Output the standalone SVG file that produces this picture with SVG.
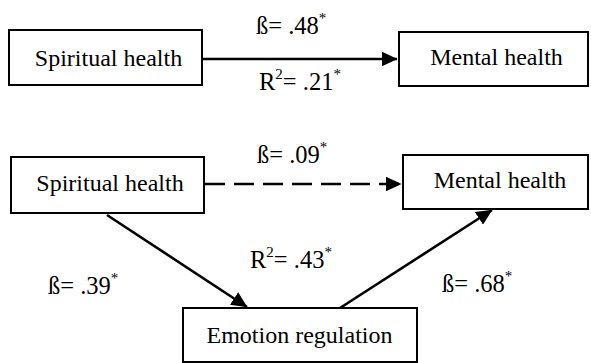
<svg xmlns="http://www.w3.org/2000/svg" width="591" height="363" viewBox="0 0 591 363" font-family="Liberation Serif, Times New Roman, serif">
<defs>
<style>
.box{fill:#fff;stroke:#000;stroke-width:2}
text{font-family:"Liberation Serif","Times New Roman",serif;font-size:24px;fill:#000}
.lbl{font-size:24.5px}
.sup{font-size:15px}
.edge{stroke:#000;stroke-width:2.6;fill:none}
.dash{stroke-dasharray:20 9}
</style>
<marker id="ah" markerUnits="userSpaceOnUse" markerWidth="16" markerHeight="15" viewBox="0 0 16 15" refX="15.5" refY="7.5" orient="auto">
<path d="M0,0 L16,7.5 L0,15 Z" fill="#000"/>
</marker>
</defs>
<rect width="591" height="363" fill="#fff"/>
<g id="connectors">
<line class="edge" x1="203" y1="59" x2="397" y2="59" marker-end="url(#ah)"/>
<line class="edge dash" x1="205" y1="184" x2="401" y2="184" marker-end="url(#ah)"/>
<line class="edge" x1="107" y1="215" x2="247" y2="307" marker-end="url(#ah)"/>
<line class="edge" x1="340" y1="308" x2="492" y2="210" marker-end="url(#ah)"/>
</g>
<g id="spiritual-top">
<rect class="box" x="9" y="30" width="193" height="55"/>
<text x="108.5" y="66" text-anchor="middle">Spiritual health</text>
</g>
<g id="mental-top">
<rect class="box" x="399" y="32" width="189" height="54"/>
<text x="496.5" y="65" text-anchor="middle">Mental health</text>
</g>
<g id="spiritual-bottom">
<rect class="box" x="11" y="157" width="193" height="56"/>
<text x="110" y="191" text-anchor="middle">Spiritual health</text>
</g>
<g id="mental-bottom">
<rect class="box" x="403" y="155" width="185" height="54"/>
<text x="500" y="188" text-anchor="middle">Mental health</text>
</g>
<g id="emotion">
<rect class="box" x="183" y="308" width="234" height="54"/>
<text x="299.5" y="343" text-anchor="middle">Emotion regulation</text>
</g>
<g id="labels">
<text class="lbl" x="256" y="34">ß= .48<tspan class="sup" dy="-11">*</tspan></text>
<text class="lbl" x="259" y="90">R<tspan class="sup" dy="-11">2</tspan><tspan dy="11">= .21</tspan><tspan class="sup" dy="-11">*</tspan></text>
<text class="lbl" x="257" y="163">ß= .09<tspan class="sup" dy="-11">*</tspan></text>
<text class="lbl" x="250" y="268">R<tspan class="sup" dy="-11">2</tspan><tspan dy="11">= .43</tspan><tspan class="sup" dy="-11">*</tspan></text>
<text class="lbl" x="48" y="294">ß= .39<tspan class="sup" dy="-11">*</tspan></text>
<text class="lbl" x="442" y="292">ß= .68<tspan class="sup" dy="-11">*</tspan></text>
</g>
</svg>
